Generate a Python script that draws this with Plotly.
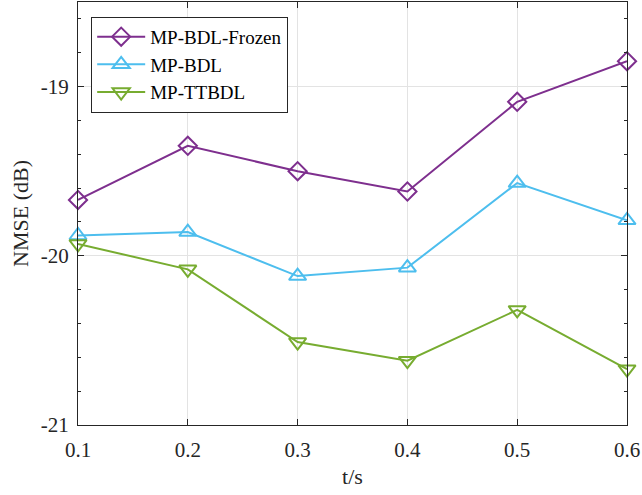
import plotly.graph_objects as go

t = [0.1, 0.2, 0.3, 0.4, 0.5, 0.6]
frozen = [-19.67, -19.35, -19.50, -19.62, -19.09, -18.85]
bdl = [-19.88, -19.86, -20.12, -20.07, -19.57, -19.79]
ttbdl = [-19.93, -20.08, -20.51, -20.62, -20.32, -20.67]

series = [
    ("MP-BDL-Frozen", frozen, "#7E2F8E", "diamond-open", 14),
    ("MP-BDL", bdl, "#4DBEEE", "triangle-up-open", 15),
    ("MP-TTBDL", ttbdl, "#77AC30", "triangle-down-open", 15),
]

fig = go.Figure()
for name, y, c, sym, sz in series:
    fig.add_trace(go.Scatter(
        x=t, y=y, name=name, mode="lines+markers",
        line=dict(color=c, width=2),
        marker=dict(symbol=sym, size=sz, color=c, line=dict(color=c, width=2)),
        cliponaxis=False,
    ))

font = "Liberation Serif, Times New Roman, serif"
axis_common = dict(
    showline=True, linecolor="#262626", linewidth=1, mirror="allticks",
    ticks="inside", ticklen=6, tickcolor="#262626",
    showgrid=True, gridcolor="#E3E3E3", gridwidth=1, zeroline=False,
    tickfont=dict(family=font, size=21, color="#262626"),
)
fig.update_xaxes(
    range=[0.1, 0.6], tickvals=t, ticktext=["0.1", "0.2", "0.3", "0.4", "0.5", "0.6"],
    ticklabelstandoff=6,
    title=dict(text="t/s", font=dict(family=font, size=22, color="#262626"), standoff=7),
    **axis_common,
)
fig.update_yaxes(
    range=[-21, -18.5], tickvals=[-21, -20, -19], ticktext=["-21", "-20", "-19"],
    ticklabelstandoff=4,
    minor=dict(dtick=0.2, tick0=-21, ticks="inside", ticklen=3, tickcolor="#262626", showgrid=False),
    title=dict(text="NMSE (dB)", font=dict(family=font, size=22, color="#262626"), standoff=6),
    **axis_common,
)
fig.update_layout(
    width=642, height=495,
    margin=dict(l=78, r=15, t=2, b=70),
    plot_bgcolor="white", paper_bgcolor="white",
    showlegend=True,
    legend=dict(
        x=0.024, y=0.965, xanchor="left", yanchor="top",
        bgcolor="white", bordercolor="#262626", borderwidth=1,
        font=dict(family=font, size=19, color="black"),
        tracegroupgap=0, itemwidth=48,
    ),
)
fig.write_html("out.html")
